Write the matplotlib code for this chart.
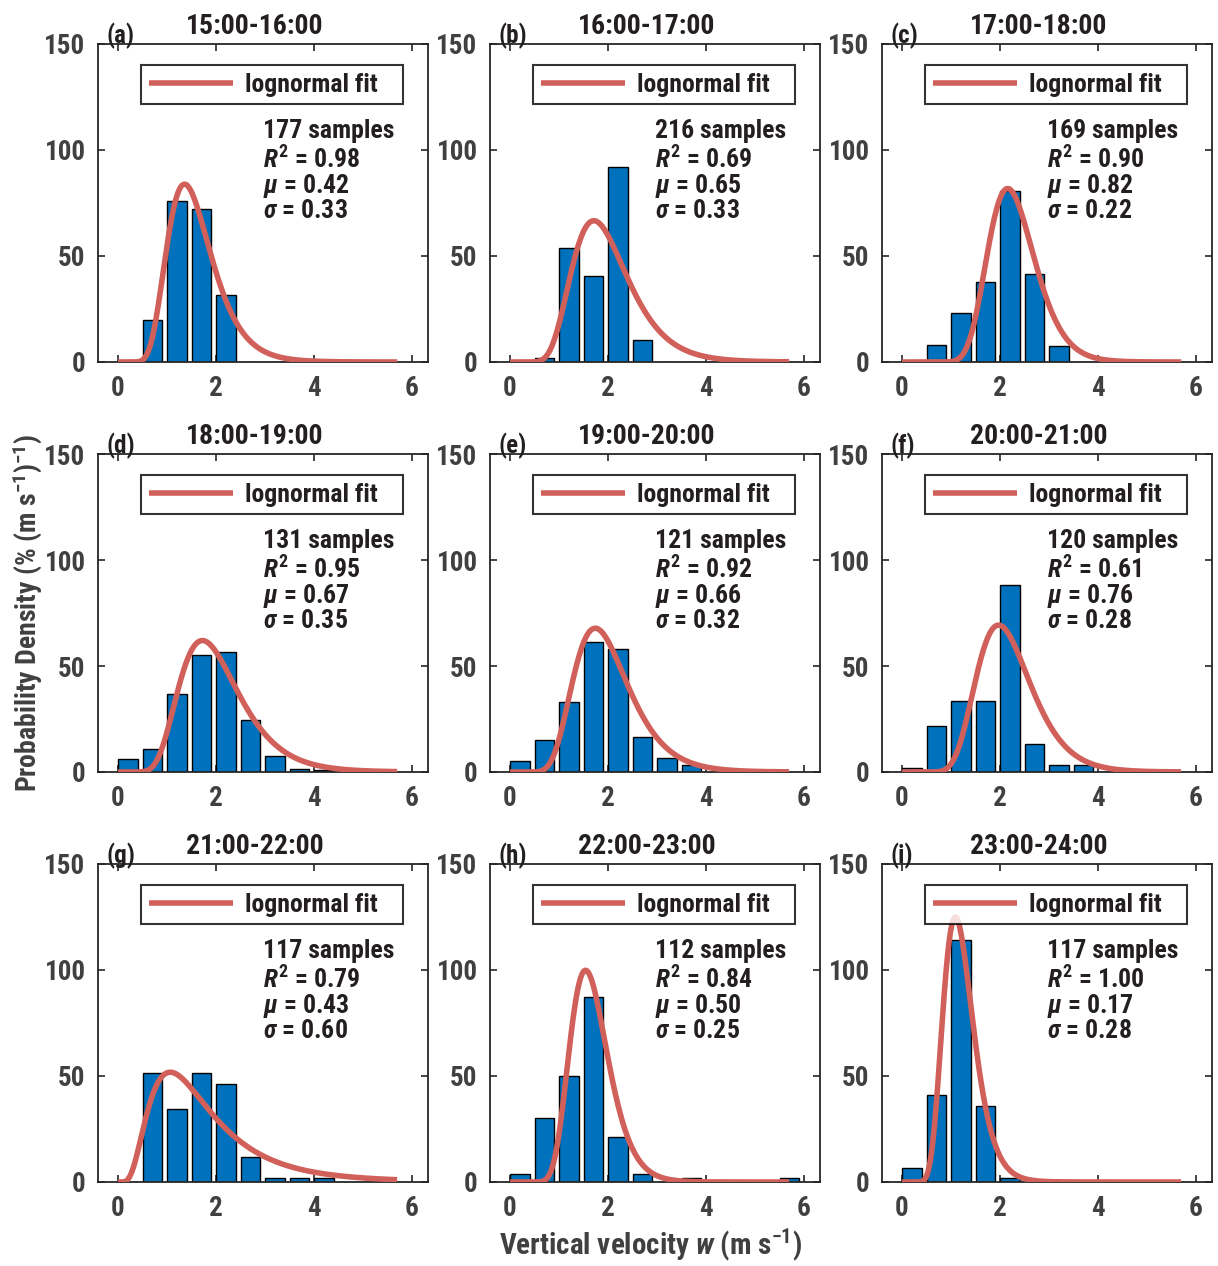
import numpy as np
import matplotlib
matplotlib.use("Agg")
import matplotlib.pyplot as plt
from matplotlib import font_manager

# look for a narrow / condensed face, otherwise plain DejaVu Sans
FONT, STRETCH = "DejaVu Sans", "normal"
narrow = [f for f in font_manager.fontManager.ttflist
          if "narrow" in f.name.lower() or "condensed" in f.name.lower()
          or str(f.stretch) in ("condensed", "semi-condensed", "extra-condensed")]
for f in narrow:
    if "Liberation" in f.name or "Roboto" in f.name:
        FONT, STRETCH = f.name, f.stretch
        break
else:
    if narrow:
        FONT, STRETCH = narrow[0].name, narrow[0].stretch

plt.rcParams["font.family"] = [FONT, "DejaVu Sans"]
plt.rcParams["font.stretch"] = STRETCH
plt.rcParams["font.weight"] = "bold"
plt.rcParams["mathtext.fontset"] = "custom"
plt.rcParams["mathtext.rm"] = FONT + ":bold"
plt.rcParams["mathtext.it"] = FONT + ":italic:bold"
plt.rcParams["mathtext.bf"] = FONT + ":bold"
NARROW = FONT != "DejaVu Sans"
k = 1.0 if NARROW else 0.82  # shrink text when only the wide font exists

# ---------------- data ----------------
titles = ["15:00-16:00", "16:00-17:00", "17:00-18:00",
          "18:00-19:00", "19:00-20:00", "20:00-21:00",
          "21:00-22:00", "22:00-23:00", "23:00-24:00"]
letters = ["(a)", "(b)", "(c)", "(d)", "(e)", "(f)", "(g)", "(h)", "(i)"]
samples = [177, 216, 169, 131, 121, 120, 117, 112, 117]
r2 = [0.98, 0.69, 0.90, 0.95, 0.92, 0.61, 0.79, 0.84, 1.00]
mu = [0.42, 0.65, 0.82, 0.67, 0.66, 0.76, 0.43, 0.50, 0.17]
sigma = [0.33, 0.33, 0.22, 0.35, 0.32, 0.28, 0.60, 0.25, 0.28]

# bin centres (m/s)
bin_centers = np.array([0.21, 0.71, 1.21, 1.71, 2.21, 2.71,
                        3.21, 3.71, 4.21, 4.71, 5.21, 5.71])

# probability density (%) per bin
dens_a = [0, 19.8, 75.9, 72.4, 31.4, 0, 0, 0, 0, 0, 0, 0]
dens_b = [0, 1.9, 53.7, 40.5, 91.9, 10.5, 0, 0, 0, 0, 0, 0]
dens_c = [0, 7.8, 23.3, 37.6, 80.6, 41.3, 7.6, 0, 0, 0, 0, 0]
dens_d = [6.1, 10.7, 36.6, 55.0, 56.5, 24.4, 7.6, 1.5, 0.8, 0, 0, 0]
dens_e = [5.0, 14.9, 33.1, 61.2, 57.9, 16.5, 6.6, 3.3, 0, 0, 0, 0]
dens_f = [1.7, 21.7, 33.3, 33.3, 88.3, 13.3, 3.3, 3.3, 0, 0, 0, 0]
dens_g = [0, 51.3, 34.2, 51.3, 46.2, 12.0, 1.7, 1.7, 1.7, 0, 0, 0]
dens_h = [3.6, 30.4, 50.0, 87.5, 21.4, 3.6, 0, 1.8, 0, 0, 0, 1.8]
dens_i = [6.8, 41.0, 114.0, 35.9, 1.7, 0, 0, 0, 0, 0, 0, 0]
densities = [dens_a, dens_b, dens_c, dens_d, dens_e, dens_f, dens_g, dens_h, dens_i]

# ---------------- plot ----------------
BAR_COLOR = "#0072BD"
FIT_COLOR = "#D1605A"
TICK_COLOR = "#404040"

fig = plt.figure(figsize=(12.18, 12.66), dpi=100)
W, H = 1218.0, 1266.0
lefts = [98, 490, 882]
bottoms = [362, 772, 1182]
aw, ah = 330, 318

x_fit = np.linspace(0.01, 5.7, 400)

for i in range(9):
    r, c = divmod(i, 3)
    ax = fig.add_axes([lefts[c] / W, 1 - bottoms[r] / H, aw / W, ah / H])
    ax.bar(bin_centers, densities[i], width=0.4, color=BAR_COLOR,
           edgecolor="black", linewidth=1.0, zorder=2)
    pdf = 100 / (x_fit * sigma[i] * np.sqrt(2 * np.pi)) * \
        np.exp(-(np.log(x_fit) - mu[i]) ** 2 / (2 * sigma[i] ** 2))
    ax.plot(x_fit, pdf, color=FIT_COLOR, lw=4, zorder=3,
            label="lognormal fit   ", solid_capstyle="butt")
    ax.set_xlim(-0.4, 6.33)
    ax.set_ylim(0, 150)
    ax.set_xticks([0, 2, 4, 6])
    ax.set_yticks([0, 50, 100, 150])
    ax.tick_params(direction="in", top=True, right=True, length=5, width=1.2,
                   labelsize=19.5 * k, labelcolor=TICK_COLOR, color="#262626",
                   pad=9)
    for lab in ax.get_xticklabels() + ax.get_yticklabels():
        lab.set_fontweight("bold")
    for sp in ax.spines.values():
        sp.set_linewidth(1.3)
        sp.set_color("#262626")
    ax.set_title(titles[i], fontsize=20 * k, fontweight="bold", color="#231f20",
                 pad=7, x=0.475)
    ax.text(0.027, 0.985, letters[i], transform=ax.transAxes, fontsize=18 * k,
            fontweight="bold", color="#231f20", va="bottom", ha="left")
    leg = ax.legend(loc="upper left", bbox_to_anchor=(0.13, 0.934),
                    fontsize=18.5 * k, frameon=True, fancybox=False,
                    handlelength=3.3 if NARROW else 3.0,
                    borderpad=0.3, handletextpad=0.45, borderaxespad=0)
    leg.get_frame().set_edgecolor("black")
    leg.get_frame().set_linewidth(1.5)
    for t in leg.get_texts():
        t.set_fontweight("bold")
        t.set_color("#231f20")
    lines = [f"{samples[i]} samples",
             f"$R^2$ = {r2[i]:.2f}",
             f"$\\mu$ = {mu[i]:.2f}",
             f"$\\sigma$ = {sigma[i]:.2f}"]
    ys = [0.725, 0.638, 0.555, 0.475]
    for s, yy in zip(lines, ys):
        ax.text(0.5, yy, s, transform=ax.transAxes, fontsize=18.5 * k,
                fontweight="bold", color="#231f20", va="center", ha="left")

fig.text(27 / W, 1 - 613 / H, "Probability Density (% (m s$^{-1}$)$^{-1}$)",
         rotation=90, ha="center", va="center", fontsize=20 * k,
         fontweight="bold", color=TICK_COLOR)
fig.text(650 / W, 1 - 1245 / H, "Vertical velocity $w$ (m s$^{-1}$)",
         ha="center", va="center", fontsize=21 * k, fontweight="bold",
         color=TICK_COLOR)

fig.savefig("out.png", dpi=100)
